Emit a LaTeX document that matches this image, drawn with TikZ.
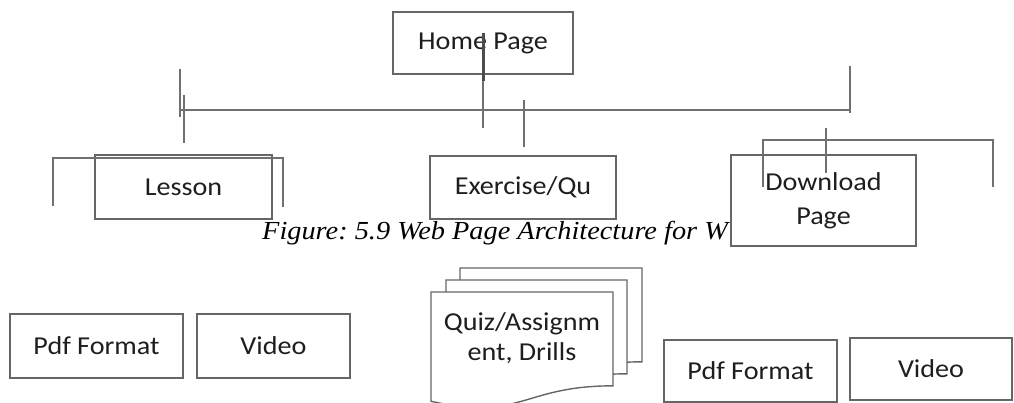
\documentclass[tikz,border=0pt]{standalone}
\usepackage{fontspec}
\newfontfamily\boxfont{Carlito}[FakeStretch=1.09]
\newfontfamily\capfont{Liberation Serif}[FakeStretch=1.09]
\definecolor{boxgray}{HTML}{666666}
\definecolor{linegray}{HTML}{707070}
\definecolor{txtgray}{HTML}{1E1E1E}
\newcommand\mydoc[4]{\filldraw[docline] (#1,#2) -- ({#1+#3},#2) -- ({#1+#3},{#2+0.802*#4}) .. controls ({#1+0.5*#3},{#2+0.802*#4}) and ({#1+0.5*#3},{#2+1.107*#4}) .. (#1,{#2+0.934*#4}) -- cycle;}
\frenchspacing
\begin{document}
\begin{tikzpicture}[x=1pt,y=-1pt,
  box/.style={draw=boxgray,line width=1.4pt,fill=white,inner sep=0pt,
    font=\boxfont\fontsize{25.8}{34}\selectfont,text=txtgray,align=center},
  docline/.style={draw=boxgray,line width=1.4pt,fill=white},
  ln/.style={draw=linegray,line width=1.1pt},
  hln/.style={draw=linegray,line width=1.8pt},
  thick ln/.style={draw=black!70,line width=3pt}]
\useasboundingbox (0,0) rectangle (1014,403);

% top box
\node[box,minimum width=180pt,minimum height=62pt] (home) at (483,43) {Home Page};

% second row
\node[box,minimum width=177pt,minimum height=64pt] (lesson) at (183.5,187) {Lesson};
\node[box,minimum width=186pt,minimum height=63pt] (exer) at (523,187.5) {Exercise/Qu};

% caption (partly hidden by the Download box)
\node[anchor=base west,inner sep=0pt,font=\capfont\itshape\fontsize{26}{30}\selectfont] (cap) at (262,240) {Figure: 5.9 Web Page Architecture for W};

\node[box,minimum width=185pt,minimum height=91pt] (down) at (823.5,200.5) {Download\\Page};

% bottom row
\node[box,minimum width=173pt,minimum height=64pt] (pdfa) at (96.5,346) {Pdf Format};
\node[box,minimum width=153pt,minimum height=64pt] (vida) at (273.5,346) {Video};
\node[box,minimum width=173pt,minimum height=62pt] (pdfb) at (750.5,371) {Pdf Format};
\node[box,minimum width=162pt,minimum height=62pt] (vidb) at (931,369) {Video};

% multi-document
\mydoc{460}{268}{182}{117}
\mydoc{446}{280}{181}{117}
\mydoc{431}{292}{182}{117}
\node[inner sep=0pt,font=\boxfont\fontsize{25.8}{30}\selectfont,text=txtgray,align=center] (quiz) at (522,338.5) {Quiz/Assignm\\ent, Drills};

% connector coordinates
\coordinate (h1) at (483,33);
\coordinate (h2) at (483,81);
\coordinate (h3) at (483,128);
\coordinate (e1) at (524,100);
\coordinate (e2) at (524,147);
\coordinate (bl) at (180,110);
\coordinate (br) at (850,110);
\coordinate (l1a) at (180,69);
\coordinate (l1b) at (180,117);
\coordinate (l2a) at (184,95);
\coordinate (l2b) at (184,143);
\coordinate (r1a) at (850,66);
\coordinate (r1b) at (850,113);
\coordinate (la) at (53,206);
\coordinate (lb) at (53,158);
\coordinate (lc) at (283,158);
\coordinate (ld) at (283,207);
\coordinate (da) at (763,187);
\coordinate (db) at (763,140);
\coordinate (dc) at (993,140);
\coordinate (dd) at (993,187);
\coordinate (dm1) at (826,128);
\coordinate (dm2) at (826,173);

\draw[thick ln] (h1) -- (h2);
\draw[ln] (h2) -- (h3);
\draw[ln] (e1) -- (e2);
\draw[hln] (bl) -- (br);
\draw[ln] (l1a) -- (l1b);
\draw[ln] (l2a) -- (l2b);
\draw[ln] (r1a) -- (r1b);
\draw[ln] (la) -- (lb) -- (lc) -- (ld);
\draw[hln] (da) -- (db) -- (dc) -- (dd);
\draw[ln] (dm1) -- (dm2);
\end{tikzpicture}
\end{document}
